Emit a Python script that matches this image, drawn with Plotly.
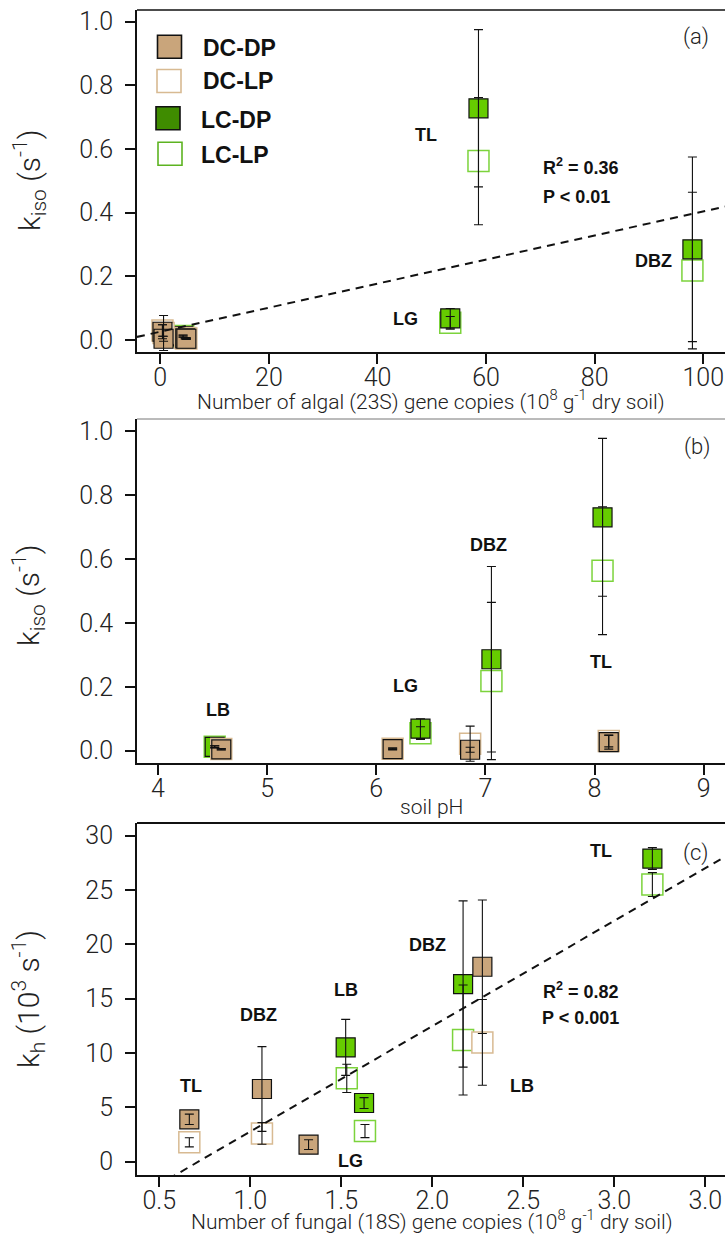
import plotly.graph_objects as go

W, H = 725, 1234

# ---------------- data ----------------
# Panel (a): algal (23S) gene copies vs k_iso
a_x_dcdp = [0.4, 0.6, 4.6, 4.8]
a_y_dcdp = [0.026, 0.004, 0.005, 0.004]
a_e_dcdp = [0.022, 0.008, 0.002, 0.002]
a_x_dclp = [0.4, 0.6, 4.6, 4.8]
a_y_dclp = [0.030, 0.022, 0.006, 0.005]
a_e_dclp = [0.018, 0.055, 0.002, 0.002]
a_x_lcdp = [4.2, 53.4, 58.6, 98.0]
a_y_lcdp = [0.012, 0.068, 0.728, 0.285]
a_e_lcdp = [0.003, 0.031, 0.247, 0.290]
a_x_lclp = [4.2, 53.4, 58.6, 98.0]
a_y_lclp = [0.0125, 0.054, 0.562, 0.218]
a_e_lclp = [0.003, 0.020, 0.200, 0.246]
a_trend = {"slope": 0.00378, "intercept": 0.026, "x": [-4.3, 104.0]}

# Panel (b): soil pH vs k_iso
b_x_dcdp = [4.58, 6.15, 6.86, 8.13]
b_y_dcdp = [0.004, 0.005, 0.003, 0.027]
b_e_dcdp = [0.002, 0.003, 0.008, 0.022]
b_x_dclp = [4.58, 6.15, 6.86, 8.13]
b_y_dclp = [0.005, 0.006, 0.022, 0.030]
b_e_dclp = [0.002, 0.002, 0.055, 0.018]
b_x_lcdp = [4.52, 6.405, 7.055, 8.073]
b_y_lcdp = [0.012, 0.069, 0.286, 0.730]
b_e_lcdp = [0.003, 0.031, 0.290, 0.247]
b_x_lclp = [4.52, 6.405, 7.055, 8.073]
b_y_lclp = [0.0125, 0.055, 0.218, 0.563]
b_e_lclp = [0.003, 0.020, 0.246, 0.200]

# Panel (c): fungal (18S) gene copies vs k_h
c_x_dcdp = [0.665, 1.064, 1.32, 2.275]
c_y_dcdp = [3.9, 6.69, 1.57, 17.94]
c_e_dcdp = [0.48, 3.9, 0.45, 6.14]
c_x_dclp = [0.665, 1.064, 2.275]
c_y_dclp = [1.78, 2.6, 10.98]
c_e_dclp = [0.42, 1.0, 3.95]
c_x_lcdp = [1.524, 1.625, 2.169, 3.209]
c_y_lcdp = [10.52, 5.4, 16.35, 27.9]
c_e_lcdp = [2.58, 0.5, 7.65, 1.0]
c_x_lclp = [1.53, 1.63, 2.169, 3.209]
c_y_lclp = [7.67, 2.82, 11.2, 25.5]
c_e_lclp = [1.3, 0.6, 5.06, 1.1]
c_trend = {"slope": 9.70, "intercept": -6.93, "x": [0.55, 3.62]}

legend_names = ["DC-DP", "DC-LP", "LC-DP", "LC-LP"]

a_ticks = [0, 20, 40, 60, 80, 100]
b_ticks = [4, 5, 6, 7, 8, 9]
c_ticks = [0.5, 1.0, 1.5, 2.0, 2.5, 3.0, 3.5]
c_ticktext = ["0.5", "1.0", "1.5", "2.0", "2.5", "3.0", "3.0"]
k_ticks = [0.0, 0.2, 0.4, 0.6, 0.8, 1.0]
kh_ticks = [0, 5, 10, 15, 20, 25, 30]

# ---------------- style ----------------
TAN = "#C9A57B"
TAN_LINE = "#D8BA92"
GREEN = "#66CC00"
GREEN_LINE = "#7CD33C"
LEG_GREEN = "#3F8C00"
LEG_GREEN_LINE = "#5DB321"

LIGHT = "Roboto"
BOLD = "Liberation Sans"

fig = go.Figure()

def add_panel(xs, ax, ay):
    (xdp, ydp, edp), (xlp, ylp, elp), (xldp, yldp, eldp), (xllp, yllp, ellp) = xs
    fig.add_trace(go.Scatter(x=xllp, y=yllp, mode="markers", xaxis=ax, yaxis=ay,
                             marker=dict(symbol="square", size=21, color="rgba(255,255,255,1)",
                                         line=dict(color=GREEN_LINE, width=1.5)),
                             showlegend=False, hoverinfo="skip"))
    fig.add_trace(go.Scatter(x=xldp, y=yldp, mode="markers", xaxis=ax, yaxis=ay,
                             marker=dict(symbol="square", size=19, color=GREEN,
                                         line=dict(color="#111", width=1.2)),
                             showlegend=False, hoverinfo="skip"))
    fig.add_trace(go.Scatter(x=xlp, y=ylp, mode="markers", xaxis=ax, yaxis=ay,
                             marker=dict(symbol="square", size=21, color="rgba(255,255,255,1)",
                                         line=dict(color=TAN_LINE, width=1.5)),
                             showlegend=False, hoverinfo="skip"))
    fig.add_trace(go.Scatter(x=xdp, y=ydp, mode="markers", xaxis=ax, yaxis=ay,
                             marker=dict(symbol="square", size=19, color=TAN,
                                         line=dict(color="#111", width=1.2)),
                             showlegend=False, hoverinfo="skip"))
    for xx, yy, ee in [(xllp, yllp, ellp), (xldp, yldp, eldp), (xlp, ylp, elp), (xdp, ydp, edp)]:
        fig.add_trace(go.Scatter(x=xx, y=yy, mode="markers", xaxis=ax, yaxis=ay,
                                 marker=dict(size=1, color="rgba(0,0,0,0)"),
                                 error_y=dict(type="data", array=ee, visible=True,
                                              color="#111", thickness=1.1, width=4.5),
                                 showlegend=False, hoverinfo="skip"))

add_panel([(a_x_dcdp, a_y_dcdp, a_e_dcdp), (a_x_dclp, a_y_dclp, a_e_dclp),
           (a_x_lcdp, a_y_lcdp, a_e_lcdp), (a_x_lclp, a_y_lclp, a_e_lclp)], "x", "y")
add_panel([(b_x_dcdp, b_y_dcdp, b_e_dcdp), (b_x_dclp, b_y_dclp, b_e_dclp),
           (b_x_lcdp, b_y_lcdp, b_e_lcdp), (b_x_lclp, b_y_lclp, b_e_lclp)], "x2", "y2")
add_panel([(c_x_dcdp, c_y_dcdp, c_e_dcdp), (c_x_dclp, c_y_dclp, c_e_dclp),
           (c_x_lcdp, c_y_lcdp, c_e_lcdp), (c_x_lclp, c_y_lclp, c_e_lclp)], "x3", "y3")

for tr, ax, ay in [(a_trend, "x", "y"), (c_trend, "x3", "y3")]:
    xx = tr["x"]
    yy = [tr["slope"] * v + tr["intercept"] for v in xx]
    fig.add_trace(go.Scatter(x=xx, y=yy, mode="lines", xaxis=ax, yaxis=ay,
                             line=dict(color="#111", width=2, dash="8px,6px"),
                             showlegend=False, hoverinfo="skip"))

# ---------------- axes ----------------
def px_y(p):
    return 1 - p / H

def px_x(p):
    return p / W

tickfont = dict(family=LIGHT, size=25, color="#222", weight=300)
XDOM = [px_x(137), 1.0]

def xax(rng, tv, tt, anchor):
    return dict(domain=XDOM, range=rng, tickvals=tv, ticktext=tt, anchor=anchor,
                showline=True, linecolor="#111", linewidth=2, ticks="outside",
                ticklen=10, tickwidth=1.5, tickcolor="#111", tickfont=tickfont,
                ticklabelstandoff=-8,
                showgrid=False, zeroline=False, fixedrange=True, automargin=False)

def yax(rng, tv, tt, dom, anchor):
    return dict(domain=dom, range=rng, tickvals=tv, ticktext=tt, anchor=anchor,
                showline=True, linecolor="#111", linewidth=2, ticks="outside",
                ticklen=10, tickwidth=1.5, tickcolor="#111", tickfont=tickfont,
                ticklabelstandoff=7, automargin=False,
                showgrid=False, zeroline=False, fixedrange=True)

ktxt = ["%.1f" % v for v in k_ticks]

fig.update_layout(
    template="none",
    width=W, height=H,
    margin=dict(l=0, r=0, t=0, b=0, pad=0),
    paper_bgcolor="white", plot_bgcolor="white",
    showlegend=False,
    xaxis=xax([-4.29, 104.0], a_ticks, [str(v) for v in a_ticks], "y"),
    yaxis=yax([-0.0377, 1.0368], k_ticks, ktxt, [px_y(352), px_y(10)], "x"),
    xaxis2=xax([3.808, 9.195], b_ticks, [str(v) for v in b_ticks], "y2"),
    yaxis2=yax([-0.0375, 1.0375], k_ticks, ktxt, [px_y(762.7), px_y(419)], "x2"),
    xaxis3=xax([0.3775, 3.608], c_ticks, c_ticktext, "y3"),
    yaxis3=yax([-1.224, 31.17], kh_ticks, [str(v) for v in kh_ticks], [px_y(1175), px_y(823)], "x3"),
)

shapes = []
for yref, col, wid in [("y domain", "#111", 1.5), ("y2 domain", "#777", 1.0), ("y3 domain", "#111", 2.0)]:
    shapes.append(dict(type="line", xref="paper", yref=yref, x0=XDOM[0], x1=1.0, y0=1, y1=1,
                       line=dict(color=col, width=wid)))

leg_fill = [TAN, "white", LEG_GREEN, "white"]
leg_line = ["#111", TAN_LINE, "#111", LEG_GREEN_LINE]
leg_cx = [169.5, 169.0, 168.0, 170.0]
leg_cy = [46.7, 81.0, 118.3, 153.7]
leg_tx = [201, 201, 199, 199]
leg_ty = [48.3, 81.3, 119.7, 155.3]
for i in range(4):
    shapes.append(dict(type="rect", xref="paper", yref="paper",
                       x0=px_x(leg_cx[i] - 12), x1=px_x(leg_cx[i] + 12),
                       y0=px_y(leg_cy[i] + 11.5), y1=px_y(leg_cy[i] - 11.5),
                       fillcolor=leg_fill[i], line=dict(color=leg_line[i], width=1.6)))
fig.update_layout(shapes=shapes)

ann = []
for i in range(4):
    ann.append(dict(text=legend_names[i], xref="paper", yref="paper", x=px_x(leg_tx[i]),
                    y=px_y(leg_ty[i]), xanchor="left", yanchor="middle", showarrow=False,
                    font=dict(family=BOLD, size=23, color="#111", weight="bold")))

bold18 = dict(family=BOLD, size=18, color="#111", weight="bold")
site_labels = [
    ("TL", "x", "y", 49.0, 0.644), ("LG", "x", "y", 45.2, 0.065), ("DBZ", "x", "y", 90.8, 0.248),
    ("LB", "x2", "y2", 4.553, 0.127), ("LG", "x2", "y2", 6.27, 0.202),
    ("DBZ", "x2", "y2", 7.024, 0.643), ("TL", "x2", "y2", 8.062, 0.278),
    ("TL", "x3", "y3", 0.673, 6.97), ("DBZ", "x3", "y3", 1.044, 13.5), ("LB", "x3", "y3", 1.526, 15.8),
    ("LG", "x3", "y3", 1.548, 0.06), ("DBZ", "x3", "y3", 1.971, 19.94), ("LB", "x3", "y3", 2.495, 6.97),
    ("TL", "x3", "y3", 2.929, 28.62),
]
for t, xr, yr, xv, yv in site_labels:
    ann.append(dict(text=t, xref=xr, yref=yr, x=xv, y=yv, showarrow=False,
                    xanchor="center", yanchor="middle", font=bold18))

stats = [
    ("R<sup>2</sup> = 0.36", "x", "y", 70.2, 0.544), ("P < 0.01", "x", "y", 70.2, 0.450),
    ("R<sup>2</sup> = 0.82", "x3", "y3", 2.599, 15.8), ("P < 0.001", "x3", "y3", 2.590, 13.2),
]
for t, xr, yr, xv, yv in stats:
    ann.append(dict(text=t, xref=xr, yref=yr, x=xv, y=yv, showarrow=False,
                    xanchor="left", yanchor="middle", font=bold18))

panel_tags = [("(a)", "x", "y", 98.7, 0.952), ("(b)", "x2", "y2", 8.939, 0.95), ("(c)", "x3", "y3", 3.449, 28.4)]
for t, xr, yr, xv, yv in panel_tags:
    ann.append(dict(text=t, xref=xr, yref=yr, x=xv, y=yv, showarrow=False,
                    xanchor="center", yanchor="middle",
                    font=dict(family=LIGHT, size=22, color="#222", weight=300)))

titlefont = dict(family=LIGHT, size=21, color="#222", weight=300)
xtitles = [
    ("Number of algal (23S) gene copies (10<sup>8</sup> g<sup>-1</sup> dry soil)", 430.5, 400),
    ("soil pH", 431, 807),
    ("Number of fungal (18S) gene copies (10<sup>8</sup> g<sup>-1</sup> dry soil)", 431.5, 1220),
]
for t, xp, yp in xtitles:
    ann.append(dict(text=t, xref="paper", yref="paper", x=px_x(xp), y=px_y(yp), showarrow=False,
                    xanchor="center", yanchor="middle", font=titlefont))

ytitlefont = dict(family=LIGHT, size=30, color="#222", weight=300)
ytitles = [
    ("k<sub>iso</sub> (s<sup>-1</sup>)", 29, 181),
    ("k<sub>iso</sub> (s<sup>-1</sup>)", 29, 596),
    ("k<sub>h</sub> (10<sup>3</sup> s<sup>-1</sup>)", 29, 999),
]
for t, xp, yp in ytitles:
    ann.append(dict(text=t, xref="paper", yref="paper", x=px_x(xp), y=px_y(yp), showarrow=False,
                    xanchor="center", yanchor="middle", textangle=-90, font=ytitlefont))

fig.update_layout(annotations=ann)

fig.write_html("out.html", config={"displayModeBar": False},
               post_script="document.body.style.margin='0';document.body.style.padding='0';")
